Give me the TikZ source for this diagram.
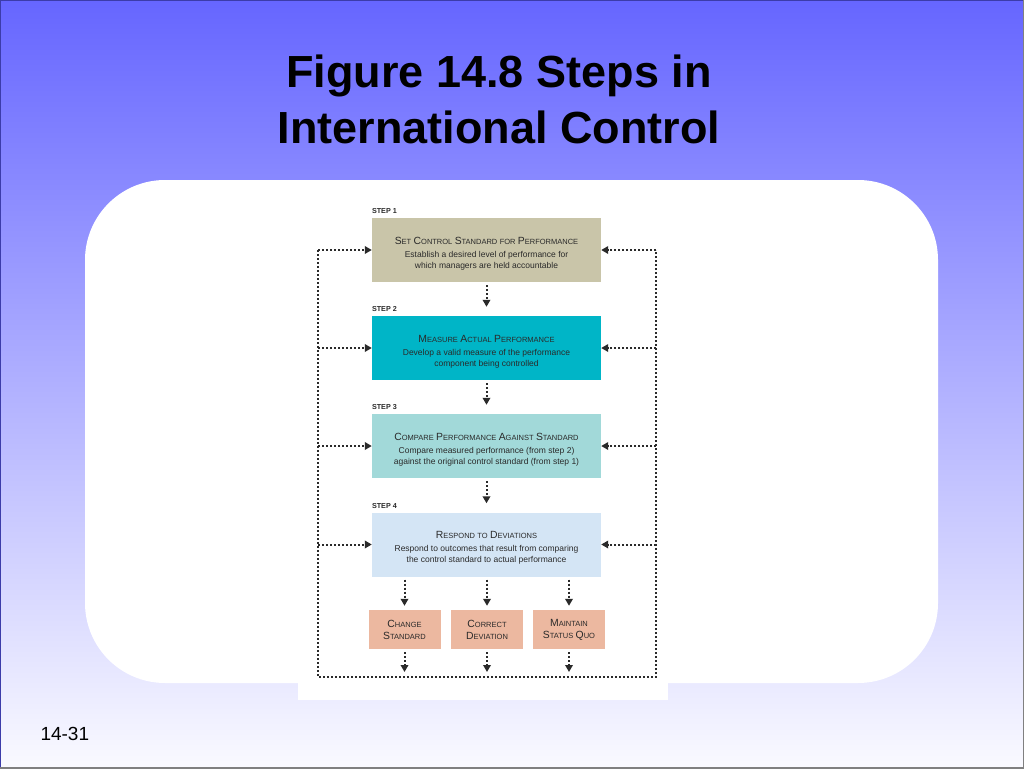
\documentclass[tikz,border=0pt]{standalone}
\usepackage{fontspec}
\setmainfont{Liberation Sans}
\usetikzlibrary{arrows.meta,positioning,calc}

\definecolor{slidetop}{HTML}{6666FF}
\definecolor{slidebot}{HTML}{FAFAFF}
\definecolor{slideedge}{HTML}{3C3CAA}
\definecolor{stepone}{HTML}{C9C5A9}
\definecolor{steptwo}{HTML}{00B5C7}
\definecolor{stepthree}{HTML}{A2D9D9}
\definecolor{stepfour}{HTML}{D4E5F5}
\definecolor{outcome}{HTML}{ECB8A0}
\definecolor{ink}{HTML}{2A2A2A}

\newcommand\capword[2]{{\fontsize{10.4}{11}\selectfont#1}{\fontsize{7.5}{11}\selectfont#2}}
\newcommand\smallword[1]{{\fontsize{7.5}{11}\selectfont#1}}
\newcommand\topgap{\rule{0pt}{14pt}}

\tikzset{
  stepbox/.style={minimum width=229pt, minimum height=64pt, inner sep=0pt,
    align=center, text=ink, font=\fontsize{8.5}{11}\selectfont},
  outbox/.style={minimum width=72pt, minimum height=39pt, inner sep=0pt,
    align=center, fill=outcome, text=ink, font=\fontsize{8.5}{12}\selectfont},
  steplabel/.style={anchor=south west, inner sep=0pt, yshift=4pt,
    font=\bfseries\fontsize{7.2}{8}\selectfont, text=ink},
  dots/.style={draw=ink, line width=2pt, dash pattern=on 2pt off 2pt},
  dotarrow/.style={dots, -{Triangle[width=7.5pt,length=7pt]}},
}

\begin{document}
\begin{tikzpicture}[x=1pt,y=-1pt]
\useasboundingbox (0,0) rectangle (1024,768);
% slide background
\shade[top color=slidetop, bottom color=slidebot] (0,0) rectangle (1024,768);
\draw[slideedge, line width=1.5pt] (0,768) -- (0,0) -- (1024,0);
\draw[gray, line width=1.5pt] (0,768) -- (1024,768) -- (1024,0);
\fill[white, rounded corners=80pt] (85,180) rectangle (938,683);
\fill[white] (298,195) rectangle (668,700);

\node[anchor=base, font=\bfseries\fontsize{45}{55}\selectfont] (title1) at (499,87) {Figure 14.8 Steps in};
\node[anchor=base, font=\bfseries\fontsize{45}{55}\selectfont] (title2) at (499,143) {International Control};
\node[anchor=base west, font=\fontsize{19}{20}\selectfont] (pageno) at (37,740) {14-31};

% the four steps
\node[stepbox, fill=stepone] (s1) at (486.5,250) {\topgap\capword{S}{ET} \capword{C}{ONTROL} \capword{S}{TANDARD} \smallword{FOR} \capword{P}{ERFORMANCE}\\[2pt]
  Establish a desired level of performance for\\which managers are held accountable};
\node[stepbox, fill=steptwo] (s2) at (486.5,348) {\topgap\capword{M}{EASURE} \capword{A}{CTUAL} \capword{P}{ERFORMANCE}\\[2pt]
  Develop a valid measure of the performance\\component being controlled};
\node[stepbox, fill=stepthree] (s3) at (486.5,446) {\topgap\capword{C}{OMPARE} \capword{P}{ERFORMANCE} \capword{A}{GAINST} \capword{S}{TANDARD}\\[2pt]
  Compare measured performance (from step 2)\\against the original control standard (from step 1)};
\node[stepbox, fill=stepfour] (s4) at (486.5,544.5) {\topgap\capword{R}{ESPOND} \smallword{TO} \capword{D}{EVIATIONS}\\[2pt]
  Respond to outcomes that result from comparing\\the control standard to actual performance};

\node[steplabel] (l1) at (s1.north west) {STEP 1};
\node[steplabel] (l2) at (s2.north west) {STEP 2};
\node[steplabel] (l3) at (s3.north west) {STEP 3};
\node[steplabel] (l4) at (s4.north west) {STEP 4};

% outcomes
\node[outbox] (o1) at (404.5,629.5) {\capword{C}{HANGE}\\\capword{S}{TANDARD}};
\node[outbox] (o2) at (487,629.5) {\capword{C}{ORRECT}\\\capword{D}{EVIATION}};
\node[outbox] (o3) at (569,629.5) {\capword{M}{AINTAIN}\\\capword{S}{TATUS} \capword{Q}{UO}};

\coordinate (bl) at (318,677);
\coordinate (br) at (656,677);

\draw[dotarrow, shorten <=3pt, shorten >=9pt] (s1.south) -- (s2.north);
\draw[dotarrow, shorten <=3pt, shorten >=9pt] (s2.south) -- (s3.north);
\draw[dotarrow, shorten <=3pt, shorten >=9pt] (s3.south) -- (s4.north);
\foreach \o in {o1,o2,o3} {
  \draw[dotarrow, shorten <=3pt, shorten >=4pt] (s4.south -| \o.north) -- (\o.north);
  \draw[dotarrow, shorten <=3pt, shorten >=5pt] (\o.south) -- (\o.south |- bl);
}

% feedback loop
\draw[dots] (s1.west -| bl) -- (bl) -- (br) -- (s1.east -| br);
\foreach \s in {s1,s2,s3,s4} {
  \draw[dotarrow] (\s.west -| bl) -- (\s.west);
  \draw[dotarrow] (\s.east -| br) -- (\s.east);
}
\end{tikzpicture}
\end{document}
